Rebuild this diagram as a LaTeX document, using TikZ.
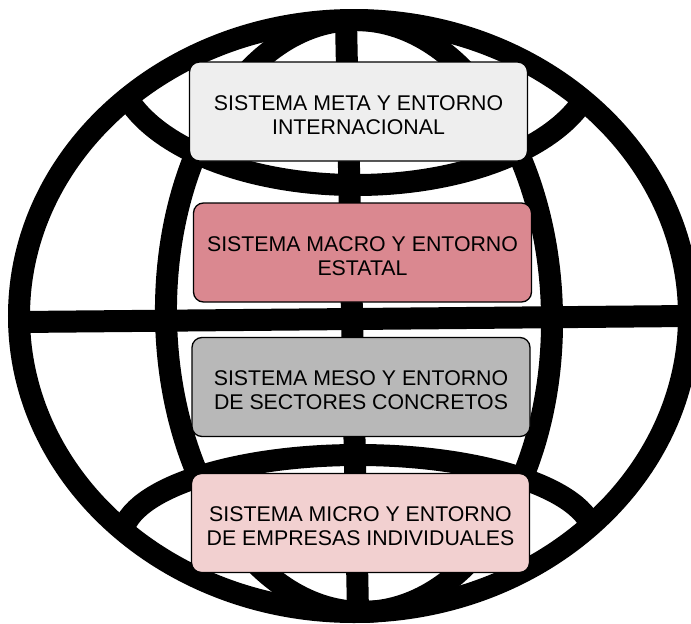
\documentclass[tikz,border=0pt]{standalone}
\usepackage{fontspec}
\setmainfont{Liberation Sans}
\definecolor{metagray}{HTML}{EEEEEE}
\definecolor{macrored}{HTML}{DA8890}
\definecolor{mesogray}{HTML}{B8B8B8}
\definecolor{micropink}{HTML}{F2D0D0}
\newcommand\alto{\rule{0pt}{22pt}}
\tikzset{
  globo/.style={line width=22pt},
  nivel/.style={draw=black, line width=1.3pt, rounded corners=10pt,
    minimum width=338pt, minimum height=99pt, inner sep=0pt,
    align=center, font=\fontsize{21.3}{24}\selectfont}
}
\begin{document}
\begin{tikzpicture}[x=1pt,y=-1pt]
    \useasboundingbox (0,0) rectangle (691,624);
    % globe
    \begin{scope}
    \clip (354,316) ellipse [x radius=335, y radius=296];
    \draw[globo] (116,60) arc[start angle=180, end angle=0, x radius=240, y radius=125];
    \draw[globo] (122,538) arc[start angle=180, end angle=360, x radius=236, y radius=83];
    \end{scope}
    \draw[globo] (354,316) ellipse [x radius=335, y radius=296];
    \draw[globo, rotate around={1.1:(359,316)}] (359,316) ellipse [x radius=193, y radius=296];
    \coordinate (west) at (20,322);
    \coordinate (east) at (689,316);
    \coordinate (north) at (346,20);
    \coordinate (south) at (358,612);
    \draw[globo] (west) -- (east);
    \draw[globo] (north) -- (south);
    % levels
    \node[nivel, fill=metagray] (meta) at (358.5,111.5) {\alto SISTEMA META Y ENTORNO\\INTERNACIONAL};
    \node[nivel, fill=macrored] (macro) at (362.5,252.5) {\alto SISTEMA MACRO Y ENTORNO\\ESTATAL};
    \node[nivel, fill=mesogray] (meso) at (361,387) {\alto SISTEMA MESO Y ENTORNO\\DE SECTORES CONCRETOS};
    \node[nivel, fill=micropink] (micro) at (360.5,523) {\alto SISTEMA MICRO Y ENTORNO\\DE EMPRESAS INDIVIDUALES};
\end{tikzpicture}
\end{document}
